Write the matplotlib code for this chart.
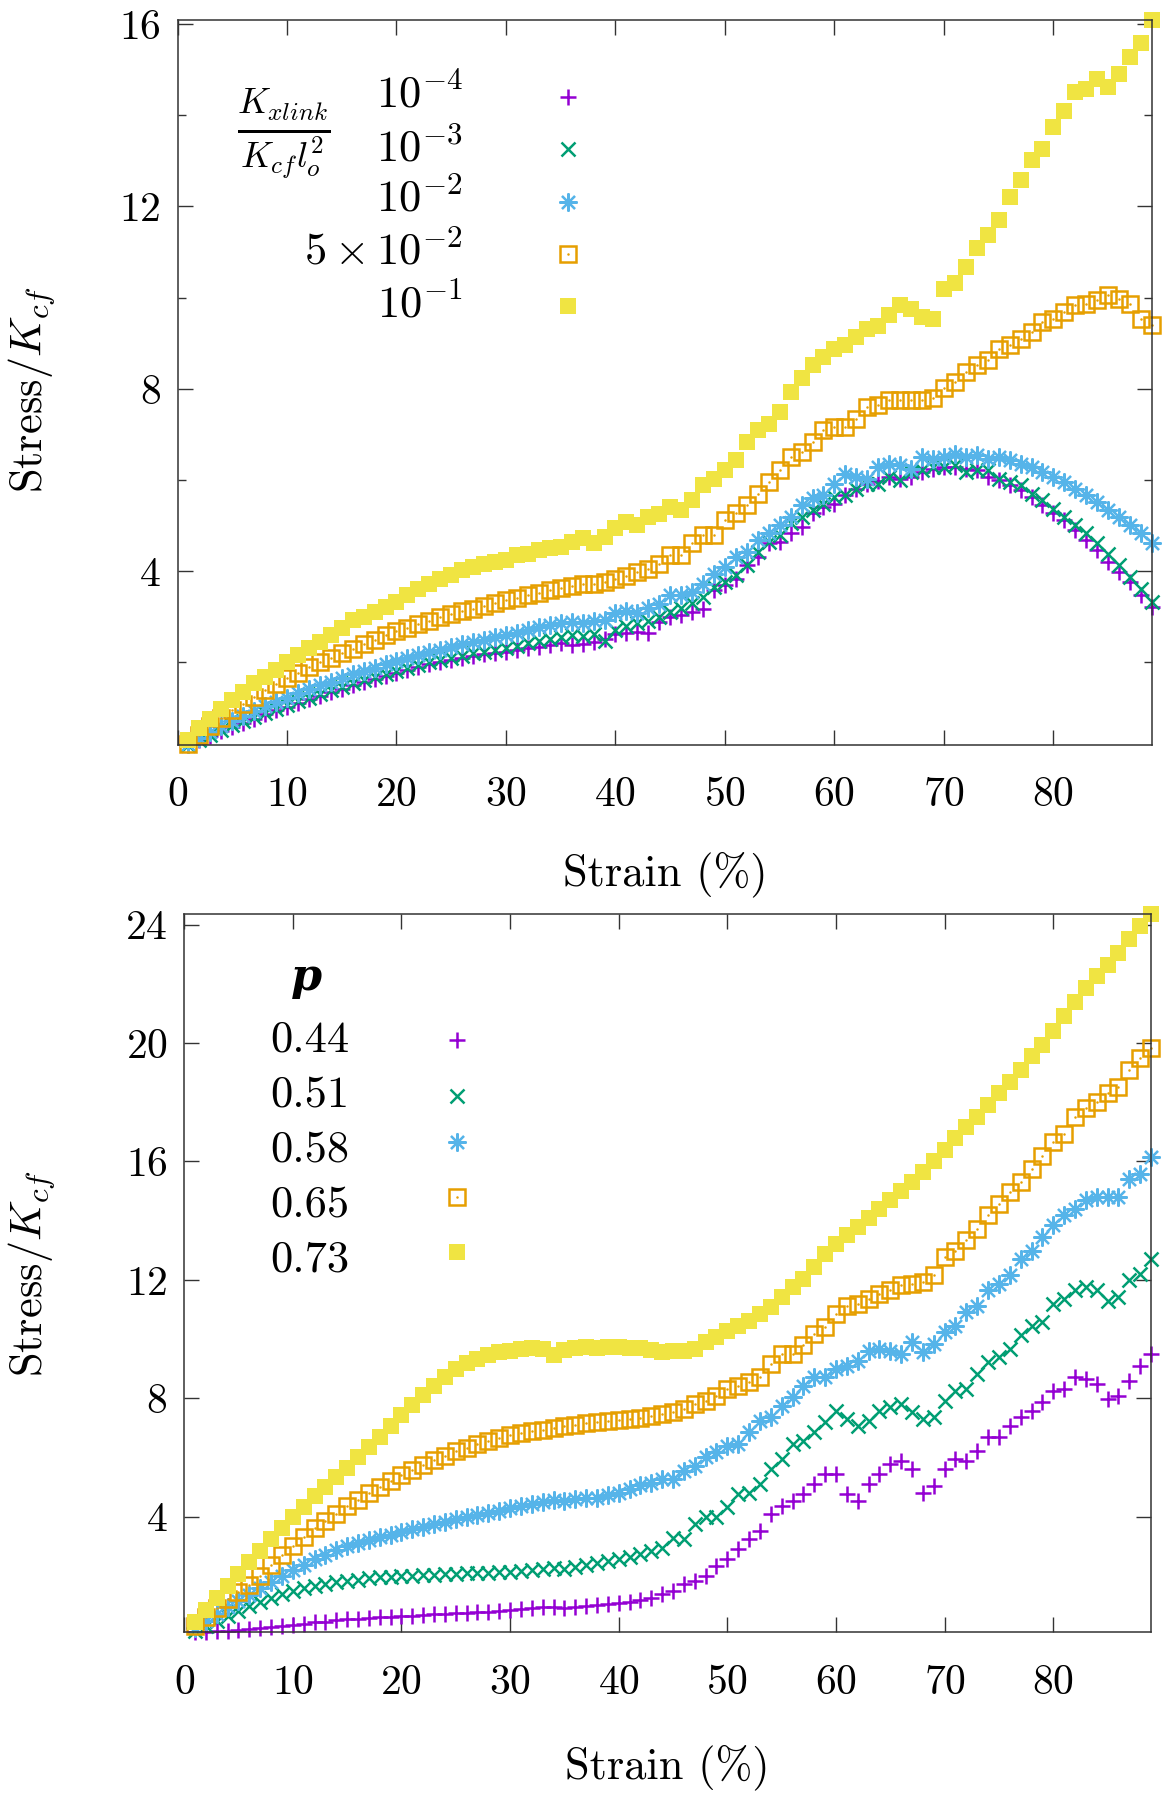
import numpy as np
import matplotlib
matplotlib.use("Agg")
import matplotlib.pyplot as plt
from matplotlib.ticker import MultipleLocator

plt.rcParams["font.family"] = "serif"
plt.rcParams["font.serif"] = ["cmr10"]
plt.rcParams["mathtext.fontset"] = "cm"
plt.rcParams["axes.formatter.use_mathtext"] = True
plt.rcParams["axes.unicode_minus"] = False

# deformacion (%) de cada punto
strain = np.arange(1, 90)

# Panel superior: rigidez de los entrecruzamientos
xlink_labels = [r"$10^{-4}$", r"$10^{-3}$", r"$10^{-2}$", r"$5\times10^{-2}$", r"$10^{-1}$"]
xlink_1e4 = [0.19, 0.29, 0.39, 0.49, 0.59, 0.68, 0.77, 0.86, 0.95, 1.03,
             1.11, 1.19, 1.27, 1.35, 1.42, 1.5, 1.57, 1.64, 1.71, 1.78,
             1.84, 1.9, 1.96, 2.01, 2.06, 2.1, 2.14, 2.18, 2.21, 2.24,
             2.28, 2.31, 2.35, 2.39, 2.42, 2.38, 2.4, 2.45, 2.52, 2.62,
             2.65, 2.66, 2.64,
             2.89, 3.0, 3.04, 3.11, 3.18, 3.58, 3.69, 3.84, 4.13, 4.31,
             4.61, 4.64, 4.84, 4.97, 5.27, 5.41, 5.48, 5.67, 5.81, 5.92,
             5.98, 6.07, 6.03, 6.07, 6.18, 6.25, 6.29, 6.29, 6.25, 6.22,
             6.07, 6.0, 5.89, 5.78, 5.63, 5.45, 5.27, 5.12, 4.9, 4.68,
             4.46, 4.21, 3.99, 3.77, 3.47, 3.22]
xlink_1e3 = [0.2, 0.31, 0.42, 0.52, 0.62, 0.72, 0.81, 0.9, 0.99, 1.07,
             1.15, 1.23, 1.31, 1.39, 1.46, 1.54, 1.61, 1.68, 1.75, 1.82,
             1.88, 1.94, 2.0, 2.05, 2.1, 2.15, 2.2, 2.24, 2.28, 2.32,
             2.37, 2.42, 2.47, 2.52, 2.56, 2.6, 2.57, 2.62, 2.48, 2.72,
             2.8, 2.86, 2.92,
             3.0, 3.1, 3.2, 3.3, 3.44, 3.66, 3.77, 3.91, 4.13, 4.42,
             4.64, 4.79, 5.05, 5.19, 5.34, 5.48, 5.63, 5.67, 5.81, 5.92,
             5.92, 6.07, 6.0, 6.18, 6.22, 6.29, 6.29, 6.32, 6.18, 6.22,
             6.22, 6.03, 5.96, 5.89, 5.7, 5.56, 5.37, 5.19, 5.01, 4.83,
             4.61, 4.39, 4.13, 3.88, 3.62, 3.33]
xlink_1e2 = [0.22, 0.35, 0.48, 0.6, 0.72, 0.83, 0.94, 1.04, 1.14, 1.23,
             1.32, 1.41, 1.5, 1.58, 1.66, 1.74, 1.82, 1.89, 1.96, 2.03,
             2.1, 2.16, 2.22, 2.28, 2.34, 2.4, 2.45, 2.5, 2.55, 2.6,
             2.65, 2.72, 2.78, 2.82, 2.86, 2.88, 2.86, 2.9, 2.93, 3.08,
             3.12, 3.08, 3.2,
             3.29, 3.47, 3.47, 3.55, 3.73, 3.95, 4.1, 4.31, 4.42, 4.68,
             4.83, 5.01, 5.19, 5.45, 5.6, 5.67, 5.92, 6.14, 6.07, 6.03,
             6.29, 6.36, 6.32, 6.25, 6.51, 6.47, 6.51, 6.58, 6.51, 6.54,
             6.47, 6.51, 6.43, 6.36, 6.29, 6.18, 6.07, 5.96, 5.81, 5.67,
             5.52, 5.34, 5.19, 5.01, 4.83, 4.61]
xlink_5e2 = [0.22, 0.42, 0.6, 0.78, 0.95, 1.1, 1.25, 1.4, 1.53, 1.66,
             1.78, 1.9, 2.0, 2.1, 2.2, 2.3, 2.4, 2.5, 2.6, 2.68,
             2.76, 2.84, 2.92, 2.99, 3.06, 3.12, 3.18, 3.24, 3.3, 3.36,
             3.42, 3.48, 3.53, 3.58, 3.63, 3.68, 3.72, 3.73, 3.76, 3.84,
             3.9, 3.98, 4.06,
             4.17, 4.35, 4.35, 4.61, 4.79, 4.79, 5.12, 5.27, 5.45, 5.7,
             5.96, 6.22, 6.51, 6.62, 6.84, 7.09, 7.17, 7.17, 7.35, 7.6,
             7.64, 7.75, 7.75, 7.75, 7.75, 7.79, 8.01, 8.15, 8.37, 8.52,
             8.63, 8.88, 8.96, 9.1, 9.25, 9.47, 9.54, 9.69, 9.83, 9.87,
             9.94, 10.05, 9.98, 9.87, 9.54, 9.4]
xlink_1e1 = [0.3, 0.56, 0.77, 0.99, 1.18, 1.36, 1.54, 1.69, 1.83, 2.02,
             2.16, 2.31, 2.46, 2.6, 2.75, 2.93, 3.0, 3.11, 3.22, 3.33,
             3.48, 3.62, 3.73, 3.84, 3.92, 4.03, 4.09, 4.17, 4.21, 4.25,
             4.36, 4.38, 4.46, 4.5, 4.54, 4.65, 4.72, 4.61, 4.76, 4.94,
             5.09, 5.01, 5.2,
             5.25, 5.41, 5.34, 5.56, 5.89, 6.03, 6.22, 6.43, 6.84, 7.09,
             7.24, 7.49, 7.93, 8.23, 8.52, 8.7, 8.88, 8.96, 9.14, 9.32,
             9.37, 9.61, 9.83, 9.76, 9.58, 9.54, 10.2, 10.33, 10.68, 11.1,
             11.37, 11.7, 12.21, 12.58, 13.02, 13.26, 13.75, 14.09, 14.52, 14.57,
             14.79, 14.61, 14.9, 15.28, 15.59, 16.09]

# Panel inferior: conectividad p
p_labels = ["0.44", "0.51", "0.58", "0.65", "0.73"]
p_044 = [0.09, 0.1, 0.12, 0.14, 0.16, 0.19, 0.23, 0.27, 0.31, 0.34,
         0.38, 0.42, 0.45, 0.49, 0.53, 0.55, 0.57, 0.59, 0.61, 0.63,
         0.65, 0.67, 0.69, 0.71, 0.73, 0.75, 0.77, 0.79, 0.81, 0.83,
         0.86, 0.9, 0.93, 0.95, 0.92, 0.94, 0.98, 1.02, 1.05, 1.08,
         1.12, 1.17, 1.25,
         1.37, 1.49, 1.71, 1.82, 1.99, 2.33, 2.56, 2.9, 3.24, 3.52,
         4.08, 4.36, 4.53, 4.76, 5.1, 5.43, 5.43, 4.76, 4.53, 5.1,
         5.43, 5.77, 5.89, 5.6, 4.81, 5.04, 5.6, 5.94, 5.89, 6.22,
         6.68, 6.68, 7.07, 7.35, 7.58, 7.86, 8.25, 8.31, 8.71, 8.65,
         8.48, 7.97, 8.09, 8.59, 9.1, 9.5]
p_051 = [0.12, 0.3, 0.47, 0.65, 0.82, 0.97, 1.1, 1.24, 1.37, 1.47,
         1.57, 1.66, 1.72, 1.78, 1.83, 1.87, 1.91, 1.95, 1.97, 1.99,
         2.0, 2.02, 2.04, 2.06, 2.07, 2.08, 2.09, 2.1, 2.11, 2.12,
         2.16, 2.2, 2.24, 2.26, 2.24, 2.3, 2.36, 2.42, 2.5, 2.56,
         2.64, 2.74, 2.85,
         2.95, 3.29, 3.24, 3.74, 3.97, 3.97, 4.31, 4.76, 4.81, 5.1,
         5.6, 5.94, 6.45, 6.56, 6.84, 7.18, 7.58, 7.3, 7.07, 7.24,
         7.58, 7.69, 7.8, 7.52, 7.3, 7.35, 7.92, 8.25, 8.31, 8.82,
         9.21, 9.38, 9.66, 10.12, 10.45, 10.57, 11.19, 11.36, 11.64, 11.75,
         11.64, 11.3, 11.41, 11.98, 12.2, 12.71]
p_058 = [0.24, 0.48, 0.72, 0.93, 1.14, 1.35, 1.57, 1.78, 1.99, 2.18,
         2.37, 2.55, 2.7, 2.86, 3.0, 3.1, 3.2, 3.3, 3.39, 3.49,
         3.58, 3.66, 3.74, 3.82, 3.9, 3.97, 4.05, 4.12, 4.2, 4.28,
         4.35, 4.43, 4.5, 4.56, 4.52, 4.58, 4.64, 4.62, 4.72, 4.8,
         4.92, 5.05, 5.15,
         5.27, 5.27, 5.55, 5.72, 6.0, 6.17, 6.39, 6.45, 6.84, 7.24,
         7.35, 7.75, 8.03, 8.42, 8.71, 8.71, 8.99, 9.1, 9.27, 9.61,
         9.66, 9.61, 9.5, 9.89, 9.55, 9.83, 10.23, 10.45, 10.9, 11.13,
         11.64, 11.86, 12.15, 12.71, 12.99, 13.44, 13.84, 14.18, 14.4, 14.68,
         14.8, 14.8, 14.8, 15.42, 15.59, 16.15]
p_065 = [0.3, 0.62, 0.92, 1.2, 1.45, 1.7, 2.0, 2.35, 2.7, 3.0,
         3.3, 3.6, 3.85, 4.1, 4.35, 4.55, 4.78, 5.0, 5.2, 5.4,
         5.58, 5.74, 5.9, 6.05, 6.2, 6.33, 6.45, 6.55, 6.65, 6.75,
         6.82, 6.88, 6.94, 7.0, 7.05, 7.1, 7.15, 7.2, 7.24, 7.27,
         7.3, 7.34, 7.4,
         7.46, 7.52, 7.63, 7.8, 7.92, 8.09, 8.31, 8.42, 8.54, 8.71,
         9.16, 9.5, 9.5, 9.78, 10.17, 10.4, 10.85, 11.13, 11.19, 11.36,
         11.53, 11.64, 11.81, 11.86, 11.92, 12.15, 12.77, 12.99, 13.33, 13.73,
         14.18, 14.57, 14.97, 15.3, 15.76, 16.2, 16.66, 16.94, 17.5, 17.79,
         18.01, 18.3, 18.52, 19.08, 19.48, 19.84]
p_073 = [0.45, 0.85, 1.25, 1.65, 2.05, 2.45, 2.85, 3.25, 3.62, 3.98,
         4.33, 4.68, 5.0, 5.33, 5.65, 6.0, 6.35, 6.7, 7.05, 7.42,
         7.78, 8.1, 8.42, 8.72, 8.98, 9.2, 9.32, 9.45, 9.55, 9.6,
         9.65, 9.68, 9.65, 9.45, 9.62, 9.7, 9.72, 9.7, 9.72, 9.72,
         9.7, 9.68, 9.62,
         9.55, 9.58, 9.61, 9.66, 9.89, 10.06, 10.28, 10.45, 10.62, 10.85,
         11.07, 11.41, 11.75, 12.03, 12.43, 12.88, 13.22, 13.5, 13.8, 14.1,
         14.4, 14.7, 15.0, 15.3, 15.65, 16.0, 16.4, 16.8, 17.15, 17.5,
         17.9, 18.3, 18.7, 19.1, 19.55, 19.95, 20.4, 20.9, 21.4, 21.85,
         22.25, 22.65, 23.05, 23.5, 23.95, 24.36]

colores = ["#9400d3", "#009e73", "#56b4e9", "#e69f00", "#f0e442"]


# Dibuja una serie con el simbolo de gnuplot correspondiente (pt 1..5)
def marcar(ax, x, y, k, **kw):
    c = colores[k]
    if k == 0:
        ax.plot(x, y, ls="none", marker="+", ms=12, mew=1.8, color=c, **kw)
    elif k == 1:
        ax.plot(x, y, ls="none", marker="x", ms=10.5, mew=1.8, color=c, **kw)
    elif k == 2:
        ax.plot(x, y, ls="none", marker=(8, 2, 0), ms=13, mew=1.6, color=c, **kw)
    elif k == 3:
        ax.plot(x, y, ls="none", marker="s", ms=11, mew=1.8, mfc="none", mec=c, **kw)
        ax.plot(x, y, ls="none", marker="o", ms=1.8, mew=0, color=c, **kw)
    else:
        ax.plot(x, y, ls="none", marker="s", ms=11.5, mew=0, color=c, **kw)


def preparar_ejes(ax, series, mayor, menor=None):
    todo = np.concatenate(series)
    ax.set_xlim(0, 89)
    ax.set_ylim(todo.min(), todo.max())
    ax.xaxis.set_major_locator(MultipleLocator(10))
    ax.yaxis.set_major_locator(MultipleLocator(mayor))
    if menor:
        ax.yaxis.set_minor_locator(MultipleLocator(menor))
    ax.tick_params(which="both", direction="in", top=True, right=True,
                   width=1.0, color="#333333", labelsize=30)
    ax.tick_params(which="major", length=11)
    ax.tick_params(which="minor", length=5.5)
    ax.tick_params(axis="x", pad=23)
    ax.tick_params(axis="y", pad=12)
    for s in ax.spines.values():
        s.set_linewidth(1.1)
        s.set_color("#333333")


fig = plt.figure(figsize=(11.67, 18), dpi=100)

# ----- panel superior -----
ax1 = fig.add_axes([0.1521, 0.5861, 0.8350, 0.4028])
top_series = [xlink_1e4, xlink_1e3, xlink_1e2, xlink_5e2, xlink_1e1]
for k, serie in enumerate(top_series):
    assert len(serie) == len(strain)
    marcar(ax1, strain, serie, k, clip_on=False)
preparar_ejes(ax1, top_series, 4, 2)

# leyenda estilo gnuplot
ax1.text(0.1093, 0.8428, r"$\frac{K_{xlink}}{K_{cf}l_o^2}$", transform=ax1.transAxes,
         fontsize=37, ha="center", va="center")
fila_txt = [0.8786, 0.8055, 0.7352, 0.6621, 0.5903]
fila_mk = [0.8938, 0.8221, 0.7490, 0.6772, 0.6055]
for k, lab in enumerate(xlink_labels):
    ax1.text(0.293, fila_txt[k], lab, transform=ax1.transAxes, fontsize=32,
             ha="right", va="baseline")
    marcar(ax1, [0.4007], [fila_mk[k]], k, transform=ax1.transAxes, clip_on=False)

fig.text(0.5697, 0.5144, "Strain (%)", fontsize=32, ha="center", va="center")
fig.text(0.0274, 0.7833, r"Stress/$K_{cf}$", fontsize=32, ha="center", va="center",
         rotation=90)

# ----- panel inferior -----
ax2 = fig.add_axes([0.1578, 0.0932, 0.8285, 0.3990])
bot_series = [p_044, p_051, p_058, p_065, p_073]
for k, serie in enumerate(bot_series):
    assert len(serie) == len(strain)
    marcar(ax2, strain, serie, k, clip_on=False)
preparar_ejes(ax2, bot_series, 4)

ax2.text(0.127, 0.9123, "p", transform=ax2.transAxes, fontsize=32,
         family="DejaVu Serif", weight="bold", style="italic", ha="center", va="center")
fila_txt = [0.8083, 0.7317, 0.6552, 0.5786, 0.5020]
fila_mk = [0.8246, 0.7466, 0.6830, 0.6064, 0.5299]
for k, lab in enumerate(p_labels):
    ax2.text(0.1705, fila_txt[k], lab, transform=ax2.transAxes, fontsize=32,
             ha="right", va="baseline")
    marcar(ax2, [0.2819], [fila_mk[k]], k, transform=ax2.transAxes, clip_on=False)

fig.text(0.5720, 0.0183, "Strain (%)", fontsize=32, ha="center", va="center")
fig.text(0.0274, 0.2922, r"Stress/$K_{cf}$", fontsize=32, ha="center", va="center",
         rotation=90)

fig.savefig("out.png", dpi=100)
